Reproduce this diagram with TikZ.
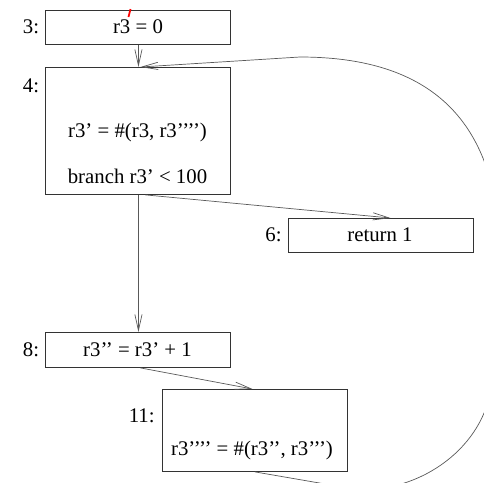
\documentclass[tikz,border=0pt]{standalone}
\usepackage{fontspec}
\setmainfont{Liberation Serif}
\usepackage{tikz}
\usetikzlibrary{arrows.meta}
\newcommand{\blabel}[4]{\node[lbl] (#1) at (#2,#3) {#4};}
\newcommand{\btext}[4]{\node[txt] (#1) at (#2,#3) {#4};}
\tikzset{
  box/.style={draw=black!80, line width=0.45pt, anchor=north west, inner sep=0pt, minimum width=92.5pt},
  lbl/.style={anchor=base east, inner sep=0pt},
  txt/.style={anchor=base, inner sep=0pt},
  edge/.style={draw=black!65, line width=0.35pt, -{Straight Barb[length=8pt,width=3.6pt]}},
}

\begin{document}
\begin{tikzpicture}[x=0.5pt,y=-0.5pt,font=\fontsize{10.4}{12}\selectfont]
\useasboundingbox (0,0) rectangle (484,483);
\clip (0,0) rectangle (484,483);
% ---- blocks
\node[box,minimum height=17pt]   (b3)  at (45.5,10)  {};
\node[box,minimum height=63.5pt] (b4)  at (45.5,67)  {};
\node[box,minimum height=17pt]   (b6)  at (288,218)  {};
\node[box,minimum height=17.5pt] (b8)  at (45.5,332) {};
\node[box,minimum height=41pt]   (b11) at (162,389)  {};

% ---- block numbers
\blabel{n3}{39.5}{33}{3:}
\blabel{n4}{39.5}{92}{4:}
\blabel{n6}{282}{241}{6:}
\blabel{n8}{39.5}{356}{8:}
\blabel{n11}{155}{422}{11:}

% ---- statements
\btext{t3}{138}{33}{r3 = 0}
\btext{t4a}{137.5}{137}{r3’ = \#(r3, r3’’’’)}
\btext{t4b}{137.5}{183}{branch r3’ < 100}
\btext{t6}{380}{241}{return 1}
\btext{t8}{137.5}{356}{r3’’ = r3’ + 1}
\btext{t11}{252}{455}{r3’’’’ = \#(r3’’, r3’’’)}

% ---- red mark
\draw[red, line width=0.9pt] (128.5,17) -- (130.5,9);

% ---- edges
\draw[edge] (b3.south) -- (b4.north);
\draw[edge] ([xshift=3.5pt]b4.south) -- ([xshift=4.75pt]b6.north);
\draw[edge] (b4.south) -- (b8.north);
\draw[edge] ([xshift=1pt]b8.south) -- ([xshift=-1.25pt]b11.north);
\draw[edge] (b11.south) -- (360,490) .. controls (430,490) and (488,440) .. (492,380)
  -- (500,260) .. controls (500,110) and (420,57) .. (300,57)
  -- ([xshift=1pt]b4.north);
\end{tikzpicture}
\end{document}
